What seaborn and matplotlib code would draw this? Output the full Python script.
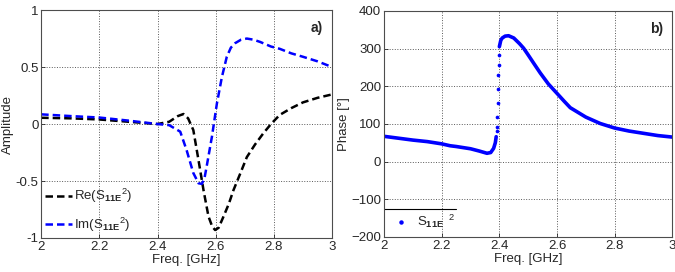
import pandas as pd
import seaborn as sns
import matplotlib.pyplot as plt

# values
freq_re = [2.0, 2.1, 2.2, 2.3, 2.4, 2.44, 2.47, 2.489, 2.505, 2.523, 2.541, 2.558, 2.575,
           2.588, 2.598, 2.61, 2.627, 2.645, 2.661, 2.685, 2.707, 2.735, 2.764, 2.79,
           2.82, 2.86, 2.9, 2.95, 3.0]
re_s11 = [0.055, 0.05, 0.04, 0.02, 0.0, 0.02, 0.07, 0.088, 0.05, -0.053, -0.32, -0.58, -0.81,
          -0.9, -0.93, -0.91, -0.81, -0.70, -0.58, -0.43, -0.29, -0.18, -0.08, 0.0,
          0.08, 0.14, 0.19, 0.23, 0.26]
freq_im = [2.0, 2.1, 2.2, 2.3, 2.4, 2.44, 2.478, 2.50, 2.523, 2.541, 2.552, 2.561, 2.569,
           2.587, 2.604, 2.621, 2.638, 2.652, 2.667, 2.687, 2.707, 2.73, 2.753, 2.79,
           2.82, 2.86, 2.9, 2.95, 3.0]
im_s11 = [0.085, 0.07, 0.057, 0.03, 0.0, -0.01, -0.067, -0.23, -0.43, -0.52, -0.525, -0.48, -0.37,
          -0.11, 0.18, 0.41, 0.59, 0.67, 0.71, 0.74, 0.75, 0.74, 0.72, 0.68,
          0.66, 0.62, 0.59, 0.55, 0.5]

freq_lo = [2.0, 2.05, 2.1, 2.15, 2.2, 2.229, 2.25, 2.3, 2.33, 2.357, 2.37, 2.38, 2.386, 2.389]
phase_lo = [67, 62, 57, 53, 47, 42, 40, 34, 28, 22, 24, 35, 50, 66]
freq_jump = [2.391, 2.392, 2.393, 2.394, 2.395, 2.396, 2.397, 2.398]
phase_jump = [80, 93, 119, 155, 193, 230, 257, 283]
freq_hi = [2.40, 2.405, 2.41, 2.42, 2.432, 2.45, 2.47, 2.484, 2.5, 2.52, 2.542, 2.57,
           2.6, 2.625, 2.646, 2.7, 2.75, 2.8, 2.85, 2.9, 2.95, 3.0]
phase_hi = [305, 322, 328, 333, 334, 328, 313, 301, 283, 260, 235, 206,
            181, 160, 143, 118, 101, 89, 81, 75, 69, 65]

df_re = pd.DataFrame({'freq': freq_re, 'val': re_s11})
df_im = pd.DataFrame({'freq': freq_im, 'val': im_s11})

sns.set_style('ticks')
plt.rcParams['font.family'] = ['Liberation Sans', 'DejaVu Sans']
plt.rcParams['font.size'] = 9.5
plt.rcParams['mathtext.fontset'] = 'custom'
plt.rcParams['mathtext.rm'] = 'Liberation Sans'
plt.rcParams['mathtext.it'] = 'Liberation Sans'
plt.rcParams['mathtext.bf'] = 'Liberation Sans:bold'

fig = plt.figure(figsize=(6.75, 2.72), dpi=100)
ax1 = fig.add_axes([0.061, 0.125, 0.431, 0.838])
ax2 = fig.add_axes([0.569, 0.129, 0.427, 0.831])

blue = (0.0, 0.0, 1.0)
dash = (3.0, 1.6)

# a) real and imaginary parts
sns.lineplot(data=df_re, x='freq', y='val', ax=ax1, color='black', lw=1.8,
             dashes=False, label=r'Re(S$_{\mathbf{11E}}$$^{2}$)')
sns.lineplot(data=df_im, x='freq', y='val', ax=ax1, color=blue, lw=1.8,
             dashes=False, label=r'Im(S$_{\mathbf{11E}}$$^{2}$)')
for ln in ax1.get_lines():
    ln.set_dashes(dash)
ax1.set_xlim(2, 3)
ax1.set_ylim(-1, 1)
ax1.set_xticks([2, 2.2, 2.4, 2.6, 2.8, 3])
ax1.set_xticklabels(['2', '2.2', '2.4', '2.6', '2.8', '3'])
ax1.set_yticks([-1, -0.5, 0, 0.5, 1])
ax1.set_yticklabels(['-1', '-0.5', '0', '0.5', '1'])
ax1.set_xlabel('Freq. [GHz]', labelpad=1)
ax1.set_ylabel('Amplitude', labelpad=1)
leg = ax1.legend(loc='lower left', frameon=False, handlelength=2.0, handletextpad=0.15,
                 borderaxespad=0.1, borderpad=0.2, labelspacing=0.8, fontsize=9.5)
for h in leg.get_lines():
    h.set_dashes(dash)
ax1.text(0.97, 0.92, 'a)', transform=ax1.transAxes, ha='right', va='center',
         fontweight='bold', fontsize=10)

# b) phase
sns.lineplot(x=freq_lo, y=phase_lo, ax=ax2, color=blue, lw=2.6)
sns.scatterplot(x=freq_jump, y=phase_jump, ax=ax2, color=blue, s=7, linewidth=0)
sns.lineplot(x=freq_hi, y=phase_hi, ax=ax2, color=blue, lw=2.6)
ax2.plot([], [], 'o', color=blue, ms=2.2, label=r'S$_{\mathbf{11E}}$$^{\ \ 2}$')
ax2.set_xlim(2, 3)
ax2.set_ylim(-200, 400)
ax2.set_xticks([2, 2.2, 2.4, 2.6, 2.8, 3])
ax2.set_xticklabels(['2', '2.2', '2.4', '2.6', '2.8', '3'])
ax2.set_yticks([-200, -100, 0, 100, 200, 300, 400])
ax2.set_xlabel('Freq. [GHz]', labelpad=1)
ax2.set_ylabel('Phase [°]', labelpad=1)
ax2.legend(loc='lower left', frameon=False, handlelength=1.6, handletextpad=0.4,
           borderaxespad=0.2, borderpad=0.3, fontsize=9.5)
ax2.axhline(-125, xmin=0, xmax=0.25, color='black', lw=0.8)
ax2.text(0.97, 0.92, 'b)', transform=ax2.transAxes, ha='right', va='center',
         fontweight='bold', fontsize=10)

for ax in (ax1, ax2):
    ax.grid(True, linestyle=':', color='0.35', lw=0.7)
    ax.tick_params(direction='in', length=3, width=0.6, pad=2, labelsize=9.5)
    for sp in ax.spines.values():
        sp.set_linewidth(0.8)
        sp.set_color('0.3')

fig.savefig('out.png', dpi=100)
